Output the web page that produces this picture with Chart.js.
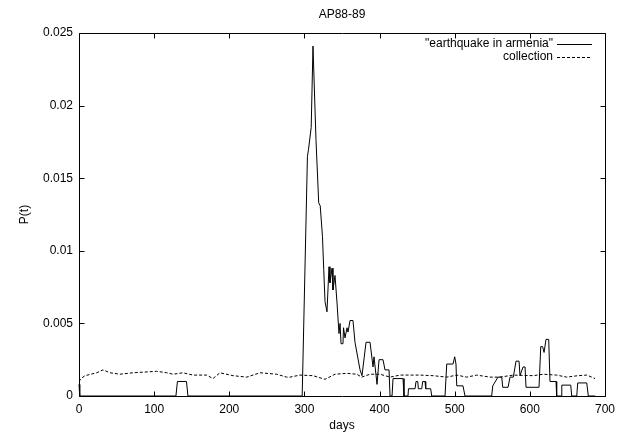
<!DOCTYPE html>
<html>
<head>
<meta charset="utf-8">
<script src="https://cdn.jsdelivr.net/npm/chart.js@4.4.1/dist/chart.umd.min.js"></script>
<style>
html,body{margin:0;padding:0;background:#fff;}
#wrap{width:624px;height:432px;}
</style>
</head>
<body>
<div id="wrap"><canvas id="chart" width="624" height="432"></canvas></div>
<script>
// values (days, P(t))
const quakeDays = [0, 1, 129, 131, 143, 145, 297, 304, 305.5, 309, 311.4, 315.4, 319, 321, 324, 325.7, 327.4, 330, 332.7, 334, 336.7, 338, 340.7, 343.4, 346, 347.4, 348.7, 351.3, 352, 354, 356.7, 358, 360.7, 364.6, 367.3, 374, 376.6, 382, 387.3, 391.3, 392.6, 396.6, 399.3, 404.6, 407.2, 412.6, 413.9, 416.6, 417.9, 431.2, 432.5, 437.8, 438.5, 447.2, 448.5, 450.8, 451.6, 456.1, 457.4, 460.5, 461.4, 468, 469.4, 487.1, 489.4, 497.7, 500, 501.7, 502.7, 511, 513.7, 549.2, 550.6, 557.6, 562.6, 563.9, 571, 573.6, 578, 581.6, 585.6, 586.9, 590.9, 593.6, 594.9, 612.2, 614.5, 617, 618.9, 621.5, 625.1, 626.8, 634.8, 635.7, 641.5, 642.5, 654.4, 655.7, 662.4, 663.7, 675.7, 677.8, 687];
const quakeValues = [0.0008, 0, 0, 0.001, 0.001, 0, 0, 0.0165, 0.017, 0.0185, 0.0241, 0.0176, 0.0133, 0.0131, 0.011, 0.0087, 0.0065, 0.0058, 0.0089, 0.0078, 0.0088, 0.0073, 0.0083, 0.0064, 0.0043, 0.005, 0.0036, 0.0036, 0.0047, 0.004, 0.0047, 0.0044, 0.0052, 0.0052, 0.0037, 0.0018, 0.0014, 0.0037, 0.0037, 0.002, 0.0027, 0.0008, 0.0025, 0.0025, 0.0018, 0.0018, 0, 0, 0.0012, 0.0012, 0, 0, 0.0005, 0.0005, 0.001, 0.001, 0.0005, 0.0005, 0.001, 0.001, 0.0005, 0.0005, 0, 0, 0.0022, 0.0022, 0.0027, 0.0022, 0.0007, 0.0007, 0, 0, 0.0007, 0.0013, 0.0013, 0.0006, 0.0006, 0.0013, 0.0013, 0.0024, 0.0024, 0.0014, 0.002, 0.002, 0.0006, 0.0006, 0.0034, 0.0034, 0.003, 0.0039, 0.0039, 0.001, 0.001, 0, 0, 0.00075, 0.00075, 0, 0, 0.0009, 0.0009, 0, 0];

const collectionDays = [0, 2.7, 8, 23.6, 32, 41.3, 54.6, 71.9, 103.4, 116.7, 125.1, 138.4, 151.7, 169.9, 178.3, 187.6, 204.9, 223.2, 240.9, 263.1, 276.4, 280.8, 294.1, 311.4, 327.4, 340.7, 356.3, 369.6, 376.2, 387.3, 400.6, 413.9, 427.2, 453.8, 471.1, 489.4, 502.7, 516, 529.3, 547, 560.3, 578, 604.6, 617.9, 635.7, 649, 664.1, 675.7, 682.3, 686.7];
const collectionValues = [0.001, 0.0012, 0.0014, 0.0016, 0.0018, 0.0016, 0.0015, 0.0016, 0.0017, 0.0016, 0.0015, 0.0016, 0.00144, 0.00144, 0.0012, 0.0016, 0.0014, 0.0013, 0.0016, 0.0015, 0.0013, 0.0013, 0.00144, 0.0014, 0.00115, 0.0015, 0.00156, 0.0015, 0.0013, 0.0015, 0.0015, 0.0013, 0.00144, 0.00144, 0.0014, 0.0013, 0.00144, 0.0013, 0.00144, 0.0013, 0.0013, 0.00144, 0.0014, 0.0015, 0.00144, 0.0013, 0.0014, 0.00144, 0.0013, 0.0012];

const seriesLabels = ['"earthquake in armenia"', 'collection'];
const xTicks = [0, 100, 200, 300, 400, 500, 600, 700];
const yTicks = [0, 0.005, 0.01, 0.015, 0.02, 0.025];

const FONT = '"Liberation Sans", Arial, Helvetica, sans-serif';

function toPoints(xs, ys){ return xs.map((x, i) => ({ x: x, y: ys[i] })); }

// gnuplot look: closed frame, inward ticks on all sides, title and key drawn by hand
const gnuplotFrame = {
    id: 'gnuplotFrame',
    afterDatasetsDraw(chart){
        const ctx = chart.ctx;
        const a = chart.chartArea;
        const xs = chart.scales.x, ys = chart.scales.y;
        const L = Math.round(a.left) + 0.5, R = Math.round(a.right) + 0.5;
        const T = Math.round(a.top) + 0.5, B = Math.round(a.bottom) + 0.5;
        const tick = 5;
        ctx.save();
        ctx.strokeStyle = '#000';
        ctx.lineWidth = 1;
        ctx.setLineDash([]);
        ctx.beginPath();
        ctx.rect(L, T, R - L, B - T);
        xTicks.forEach(v => {
            const px = Math.round(xs.getPixelForValue(v)) + 0.5;
            ctx.moveTo(px, B); ctx.lineTo(px, B - tick);
            ctx.moveTo(px, T); ctx.lineTo(px, T + tick);
        });
        yTicks.forEach(v => {
            const py = Math.round(ys.getPixelForValue(v)) + 0.5;
            ctx.moveTo(L, py); ctx.lineTo(L + tick, py);
            ctx.moveTo(R, py); ctx.lineTo(R - tick, py);
        });
        ctx.stroke();

        // title
        ctx.fillStyle = '#000';
        ctx.font = '12px ' + FONT;
        ctx.textAlign = 'center';
        ctx.textBaseline = 'middle';
        ctx.fillText('AP88-89', (a.left + a.right) / 2, 15);

        // key
        const rows = [44, 57];
        chart.data.datasets.forEach((ds, i) => {
            const y = rows[i];
            ctx.textAlign = 'right';
            ctx.fillText(ds.label, 553, y);
            ctx.beginPath();
            ctx.setLineDash(ds.borderDash || []);
            ctx.moveTo(557, y + 0.5);
            ctx.lineTo(592, y + 0.5);
            ctx.stroke();
        });
        ctx.restore();
    }
};

const chart = new Chart(document.getElementById('chart'), {
    type: 'line',
    data: {
        datasets: [
            { label: seriesLabels[0], data: toPoints(quakeDays, quakeValues), borderColor: '#000', borderWidth: 1, pointRadius: 0, tension: 0, fill: false, clip: false },
            { label: seriesLabels[1], data: toPoints(collectionDays, collectionValues), borderColor: '#000', borderWidth: 1, borderDash: [3, 2], pointRadius: 0, tension: 0, fill: false }
        ]
    },
    options: {
        responsive: false,
        animation: false,
        layout: { padding: { top: 33, right: 19, left: 0, bottom: 0 } },
        plugins: { legend: { display: false }, title: { display: false }, tooltip: { enabled: false } },
        scales: {
            x: {
                type: 'linear', min: 0, max: 700,
                afterFit: s => { s.height = 36; },
                afterBuildTicks: s => { s.ticks = xTicks.map(v => ({ value: v })); },
                grid: { display: false, drawTicks: false },
                border: { display: false },
                ticks: { color: '#000', padding: 6, font: { family: FONT, size: 12 }, maxRotation: 0 },
                title: { display: true, text: 'days', color: '#000', font: { family: FONT, size: 12, lineHeight: 1 }, padding: { top: 0, bottom: 0 } }
            },
            y: {
                type: 'linear', min: 0, max: 0.025,
                afterFit: s => { s.width = 79; },
                afterBuildTicks: s => { s.ticks = yTicks.map(v => ({ value: v })); },
                grid: { display: false, drawTicks: false },
                border: { display: false },
                ticks: { color: '#000', padding: 6, font: { family: FONT, size: 12 }, callback: v => String(+v.toFixed(3)) },
                title: { display: true, text: 'P(t)', color: '#000', font: { family: FONT, size: 12, lineHeight: 1 }, padding: { top: 19, bottom: 0 } }
            }
        }
    },
    plugins: [gnuplotFrame]
});
</script>
</body>
</html>
